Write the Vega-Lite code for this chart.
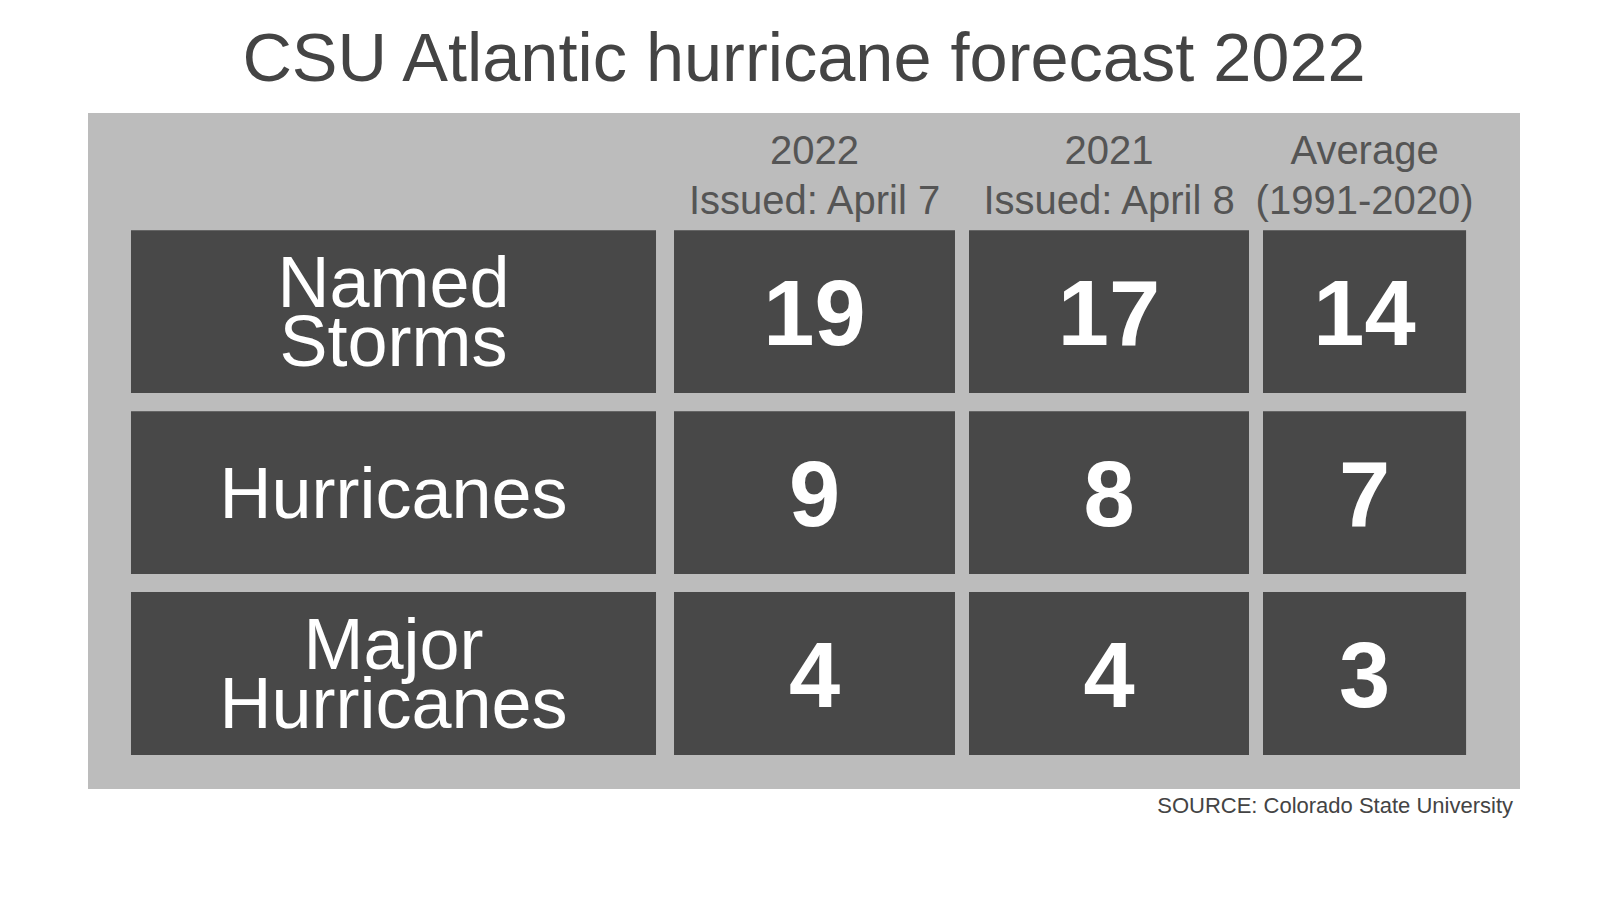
{
  "$schema": "https://vega.github.io/schema/vega-lite/v6.json",
  "background": "white",
  "padding": {"left": 88, "right": 80, "top": 25, "bottom": 20},
  "title": {"text": "CSU Atlantic hurricane forecast 2022", "font": "Liberation Sans", "fontSize": 68.5, "fontWeight": "normal", "color": "#444444", "anchor": "middle", "offset": 18},
  "data": {"values": [
    {"category": "Named Storms", "forecast": "2022 Issued: April 7", "value": 19},
    {"category": "Hurricanes", "forecast": "2022 Issued: April 7", "value": 9},
    {"category": "Major Hurricanes", "forecast": "2022 Issued: April 7", "value": 4},
    {"category": "Named Storms", "forecast": "2021 Issued: April 8", "value": 17},
    {"category": "Hurricanes", "forecast": "2021 Issued: April 8", "value": 8},
    {"category": "Major Hurricanes", "forecast": "2021 Issued: April 8", "value": 4},
    {"category": "Named Storms", "forecast": "Average (1991-2020)", "value": 14},
    {"category": "Hurricanes", "forecast": "Average (1991-2020)", "value": 7},
    {"category": "Major Hurricanes", "forecast": "Average (1991-2020)", "value": 3}
  ]},
  "vconcat": [
    {
      "spacing": 0,
      "bounds": "flush",
      "title": {"text": "SOURCE: Colorado State University", "orient": "bottom", "anchor": "end", "font": "Liberation Sans", "fontSize": 22, "fontWeight": "normal", "color": "#444444", "offset": 7, "dx": -7},
      "hconcat": [
        {
          "width": 577, "height": 676,
          "transform": [{"filter": "datum.forecast === '2022 Issued: April 7'"}],
          "encoding": {
            "x": {"field": "forecast", "type": "nominal", "scale": {"paddingInner": 0, "paddingOuter": 0.0495, "align": 0.827}, "axis": null},
            "y": {"field": "category", "type": "nominal", "sort": null, "scale": {"domain": ["Named Storms", "Hurricanes", "Major Hurricanes"], "paddingInner": 0.1, "paddingOuter": 0.418, "align": 0.775}, "axis": null}
          },
          "layer": [
            {"mark": {"type": "rect", "color": "#484848"}},
            {"transform": [{"filter": "indexof(datum.category, ' ') >= 0"}], "mark": {"type": "text", "color": "white", "font": "Liberation Sans", "fontSize": 72, "lineHeight": 59, "lineBreak": " ", "baseline": "middle", "align": "center", "dy": -27}, "encoding": {"text": {"field": "category"}}},
            {"transform": [{"filter": "indexof(datum.category, ' ') < 0"}], "mark": {"type": "text", "color": "white", "font": "Liberation Sans", "fontSize": 72, "baseline": "middle", "align": "center", "dy": 3}, "encoding": {"text": {"field": "category"}}}
          ]
        },
        {
          "width": 297, "height": 676,
          "transform": [{"filter": "datum.forecast === '2022 Issued: April 7'"}],
          "encoding": {
            "x": {"field": "forecast", "type": "nominal", "scale": {"paddingInner": 0, "paddingOuter": 0.0285, "align": 0.5625}, "axis": {"orient": "top", "title": null, "offset": -58, "domain": false, "ticks": false, "tickSize": 0, "grid": false, "labelPadding": 0, "labelAngle": 0, "labelLimit": 0, "labelFont": "Liberation Sans", "labelFontSize": 40, "labelLineHeight": 50, "labelColor": "#555555", "labelExpr": "[slice(datum.label, 0, indexof(datum.label, ' ')), slice(datum.label, indexof(datum.label, ' ') + 1)]"}},
            "y": {"field": "category", "type": "nominal", "sort": null, "scale": {"domain": ["Named Storms", "Hurricanes", "Major Hurricanes"], "paddingInner": 0.1, "paddingOuter": 0.418, "align": 0.775}, "axis": null}
          },
          "layer": [
            {"mark": {"type": "rect", "color": "#484848"}},
            {"mark": {"type": "text", "color": "white", "font": "Liberation Sans", "fontWeight": "bold", "fontSize": 92, "baseline": "middle", "align": "center", "dy": 5}, "encoding": {"text": {"field": "value"}}}
          ]
        },
        {
          "width": 294, "height": 676,
          "transform": [{"filter": "datum.forecast === '2021 Issued: April 8'"}],
          "encoding": {
            "x": {"field": "forecast", "type": "nominal", "scale": {"paddingInner": 0, "paddingOuter": 0.025, "align": 0.5}, "axis": {"orient": "top", "title": null, "offset": -58, "domain": false, "ticks": false, "tickSize": 0, "grid": false, "labelPadding": 0, "labelAngle": 0, "labelLimit": 0, "labelFont": "Liberation Sans", "labelFontSize": 40, "labelLineHeight": 50, "labelColor": "#555555", "labelExpr": "[slice(datum.label, 0, indexof(datum.label, ' ')), slice(datum.label, indexof(datum.label, ' ') + 1)]"}},
            "y": {"field": "category", "type": "nominal", "sort": null, "scale": {"domain": ["Named Storms", "Hurricanes", "Major Hurricanes"], "paddingInner": 0.1, "paddingOuter": 0.418, "align": 0.775}, "axis": null}
          },
          "layer": [
            {"mark": {"type": "rect", "color": "#484848"}},
            {"mark": {"type": "text", "color": "white", "font": "Liberation Sans", "fontWeight": "bold", "fontSize": 92, "baseline": "middle", "align": "center", "dy": 5}, "encoding": {"text": {"field": "value"}}}
          ]
        },
        {
          "width": 264, "height": 676,
          "transform": [{"filter": "datum.forecast === 'Average (1991-2020)'"}],
          "encoding": {
            "x": {"field": "forecast", "type": "nominal", "scale": {"paddingInner": 0, "paddingOuter": 0.15, "align": 0.115}, "axis": {"orient": "top", "title": null, "offset": -58, "domain": false, "ticks": false, "tickSize": 0, "grid": false, "labelPadding": 0, "labelAngle": 0, "labelLimit": 0, "labelFont": "Liberation Sans", "labelFontSize": 40, "labelLineHeight": 50, "labelColor": "#555555", "labelExpr": "[slice(datum.label, 0, indexof(datum.label, ' ')), slice(datum.label, indexof(datum.label, ' ') + 1)]"}},
            "y": {"field": "category", "type": "nominal", "sort": null, "scale": {"domain": ["Named Storms", "Hurricanes", "Major Hurricanes"], "paddingInner": 0.1, "paddingOuter": 0.418, "align": 0.775}, "axis": null}
          },
          "layer": [
            {"mark": {"type": "rect", "color": "#484848"}},
            {"mark": {"type": "text", "color": "white", "font": "Liberation Sans", "fontWeight": "bold", "fontSize": 92, "baseline": "middle", "align": "center", "dy": 5}, "encoding": {"text": {"field": "value"}}}
          ]
        }
      ]
    }
  ],
  "config": {"view": {"fill": "#bcbcbc", "stroke": null}}
}
